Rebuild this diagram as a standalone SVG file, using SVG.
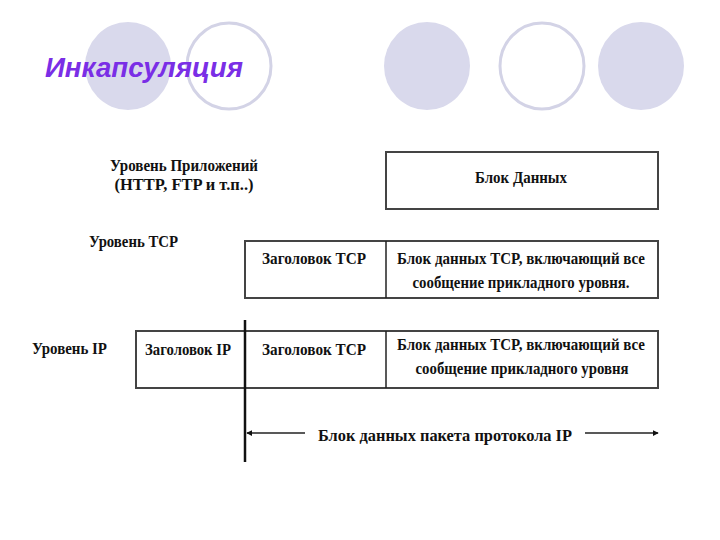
<svg xmlns="http://www.w3.org/2000/svg" width="720" height="540" viewBox="0 0 720 540">
<style>
.fc{fill:#d9d9ec;stroke:none}
.oc{fill:#fff;stroke:#d3d3e6;stroke-width:3}
.t{font-family:"Liberation Serif","Times New Roman",serif;font-weight:bold;font-size:16.5px;fill:#111}
.m{text-anchor:middle}
.box{fill:#fff;stroke:#444;stroke-width:2}
.ln{stroke:#222;stroke-width:1.5;fill:none}
</style>
<defs>
<marker id="ah" viewBox="0 0 8 8" refX="7" refY="4" markerWidth="6" markerHeight="6" orient="auto-start-reverse" markerUnits="userSpaceOnUse">
<path d="M0,0 L8,4 L0,8 z" fill="#111"/>
</marker>
</defs>
<rect width="720" height="540" fill="#fff"/>
<g id="decor">
<ellipse class="fc" cx="128" cy="66" rx="43" ry="44"/>
<ellipse class="oc" cx="229" cy="66" rx="42" ry="43"/>
<ellipse class="fc" cx="427" cy="66" rx="43" ry="44"/>
<ellipse class="oc" cx="542" cy="66" rx="42" ry="43"/>
<ellipse class="fc" cx="641" cy="66" rx="43" ry="44"/>
</g>
<g id="title">
<text x="45" y="77" font-family="Liberation Sans, Arial, sans-serif" font-weight="bold" font-style="italic" font-size="27" fill="#7a2ee6" textLength="198" lengthAdjust="spacingAndGlyphs">Инкапсуляция</text>
</g>
<g id="labels">
<text class="t m" x="184" y="171" textLength="148" lengthAdjust="spacingAndGlyphs">Уровень Приложений</text>
<text class="t m" x="184" y="190" textLength="139" lengthAdjust="spacingAndGlyphs">(HTTP, FTP и т.п..)</text>
<text class="t" x="89" y="247" textLength="89" lengthAdjust="spacingAndGlyphs">Уровень TCP</text>
<text class="t" x="32" y="354" textLength="75" lengthAdjust="spacingAndGlyphs">Уровень IP</text>
</g>
<g id="app-box">
<rect class="box" x="386" y="152" width="272" height="57"/>
<text class="t m" x="521" y="183" textLength="92" lengthAdjust="spacingAndGlyphs">Блок Данных</text>
</g>
<g id="tcp-box">
<rect class="box" x="245" y="241" width="413" height="57"/>
<line class="ln" x1="386" y1="241" x2="386" y2="298"/>
<text class="t" x="262" y="264" textLength="104" lengthAdjust="spacingAndGlyphs">Заголовок TCP</text>
<text class="t m" x="521" y="264" textLength="248" lengthAdjust="spacingAndGlyphs">Блок данных TCP, включающий все</text>
<text class="t m" x="521" y="288" textLength="217" lengthAdjust="spacingAndGlyphs">сообщение прикладного уровня.</text>
</g>
<g id="ip-box">
<rect class="box" x="136" y="331" width="522" height="57"/>
<line class="ln" x1="386" y1="331" x2="386" y2="388"/>
<text class="t" x="145" y="355" textLength="86" lengthAdjust="spacingAndGlyphs">Заголовок IP</text>
<text class="t" x="262" y="355" textLength="104" lengthAdjust="spacingAndGlyphs">Заголовок TCP</text>
<text class="t m" x="521" y="350" textLength="248" lengthAdjust="spacingAndGlyphs">Блок данных TCP, включающий все</text>
<text class="t m" x="522" y="374" textLength="213" lengthAdjust="spacingAndGlyphs">сообщение прикладного уровня</text>
</g>
<g id="connectors">
<line x1="245" y1="320" x2="245" y2="462" stroke="#111" stroke-width="2.5"/>
<line class="ln" x1="305" y1="433" x2="247" y2="433" marker-end="url(#ah)"/>
<line class="ln" x1="585" y1="433" x2="658" y2="433" marker-end="url(#ah)"/>
</g>
<g id="span-label">
<text class="t" x="318" y="441" textLength="254" lengthAdjust="spacingAndGlyphs">Блок данных пакета протокола IP</text>
</g>
</svg>
